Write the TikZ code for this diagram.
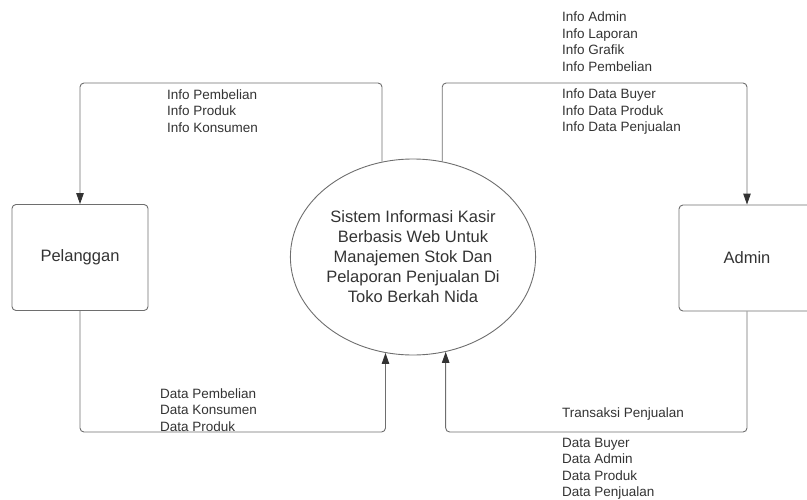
\documentclass[tikz,border=0pt]{standalone}
\usepackage{fontspec}
\setmainfont{Liberation Sans}
\usepackage{xcolor}
\usetikzlibrary{shapes.geometric,arrows.meta}
\definecolor{garis}{HTML}{6E6E6E}
\definecolor{teks}{HTML}{333333}

\begin{document}
\begin{tikzpicture}[x=1pt, y=-1pt,
  entity/.style={draw=garis, line width=0.9pt, rounded corners=4pt, minimum width=136pt, minimum height=106pt,
                 font=\fontsize{16.5}{20}\selectfont, text=teks},
  process/.style={draw=garis, line width=0.9pt, ellipse, minimum width=226pt, minimum height=196pt, inner sep=0pt,
                  align=center, font=\fontsize{16.5}{20}\selectfont, text=teks},
  flow/.style={draw=garis, line width=0.9pt, rounded corners=4pt, -{Triangle[length=11pt, width=7.5pt, color=teks]}},
  lbl/.style={anchor=west, align=left, inner sep=0pt, font=\fontsize{13.5}{16.5}\selectfont, text=teks}
]
  \useasboundingbox (0,0) rectangle (807,499);
  \clip (0,0) rectangle (807,499);

  \node[entity] (pel) at (80,257.5) {Pelanggan};
  \node[entity] (adm) at (747,258) {Admin};
  \node[process] (sys) at (413,257) {Sistem Informasi Kasir\\Berbasis Web Untuk\\Manajemen Stok Dan\\Pelaporan Penjualan Di\\Toko Berkah Nida};

  \coordinate (kiriAtas) at (80,83);
  \coordinate (kananAtas) at (747,83);
  \coordinate (kiriBawah) at (80,432);
  \coordinate (kananBawah) at (747,432);

  \draw[flow] (sys.108.6) |- (kiriAtas) -- (pel.north);
  \draw[flow] (sys.73) |- (kananAtas) -- (adm.north);
  \draw[flow] (pel.south) -- (kiriBawah) -| (sys.254.3);
  \draw[flow] (adm.south) -- (kananBawah) -| (sys.289.7);

  \node[lbl] (infoPel) at (167,111) {Info Pembelian\\Info Produk\\Info Konsumen};
  \node[lbl] (infoAdm) at (562,41.5) {Info Admin\\Info Laporan\\Info Grafik\\Info Pembelian};
  \node[lbl] (infoData) at (562,112) {Info Data Buyer\\Info Data Produk\\Info Data Penjualan};
  \node[lbl] (dataPel) at (160,410) {Data Pembelian\\Data Konsumen\\Data Produk};
  \node[lbl] (trans) at (562,414) {Transaksi Penjualan};
  \node[lbl] (dataAdm) at (562,468.5) {Data Buyer\\Data Admin\\Data Produk\\Data Penjualan};
\end{tikzpicture}
\end{document}
